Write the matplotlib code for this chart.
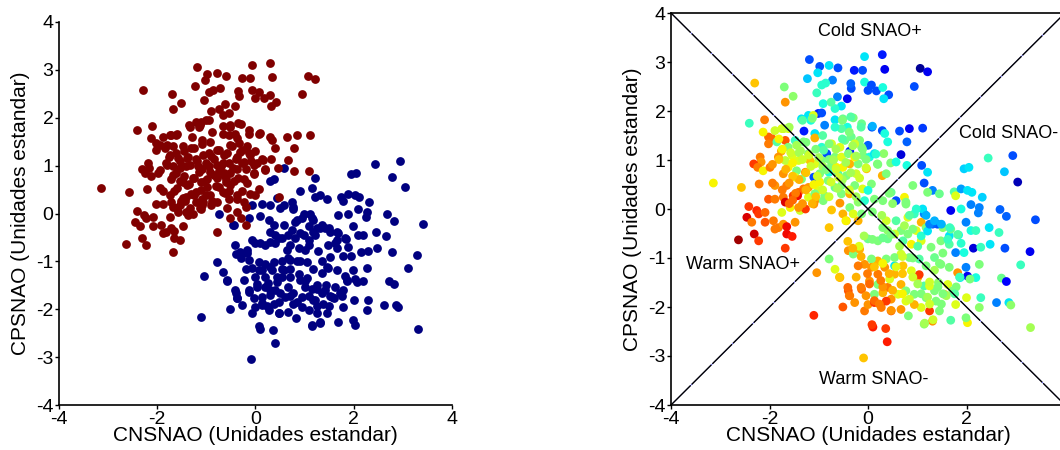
import numpy as np
import matplotlib
matplotlib.use("Agg")
import matplotlib.pyplot as plt

# points: (CNSNAO, CPSNAO, colour value 0..1 for the jet plot)
red_pts = [
    (0.29, 3.15, 0.15), (-0.07, 3.11, 0.35), (-1.19, 3.05, 0.2), (-0.98, 2.91, 0.2), (-0.79, 2.93, 0.35),
    (-0.61, 2.88, 0.2), (-0.28, 2.83, 0.15), (-0.11, 2.83, 0.2), (0.34, 2.85, 0.1), (1.06, 2.87, 0.02),
    (1.21, 2.8, 0.1), (-1.02, 2.78, 0.35), (-1.23, 2.66, 0.32), (-0.72, 2.63, 0.25), (-0.94, 2.53, 0.4),
    (-0.86, 2.57, 0.4), (-1.04, 2.37, 0.42), (-0.34, 2.46, 0.2), (-0.35, 2.56, 0.22), (-0.07, 2.59, 0.38),
    (0.0, 2.42, 0.2), (0.07, 2.53, 0.2), (0.17, 2.41, 0.2), (0.3, 2.48, 0.38), (0.42, 2.33, 0.2),
    (0.32, 2.25, 0.35), (0.94, 2.5, 0.2), (-0.42, 2.25, 0.1), (-0.62, 2.29, 0.25), (-0.54, 2.1, 0.35),
    (-0.67, 2.05, 0.4), (-0.91, 2.15, 0.38), (-0.75, 2.18, 0.45), (-1.01, 1.95, 0.15), (-0.94, 1.96, 0.2),
    (-1.21, 1.91, 0.35), (-1.35, 1.84, 0.35), (-1.7, 2.49, 0.5), (-1.52, 2.3, 0.52), (-1.68, 2.18, 0.75),
    (-2.3, 2.57, 0.7), (-2.41, 1.75, 0.42), (-2.1, 1.82, 0.78), (-1.3, 1.59, 0.15), (-1.16, 1.81, 0.38),
    (-1.11, 1.91, 0.62), (-0.88, 1.71, 0.25), (-1.08, 1.54, 0.35), (-0.67, 1.82, 0.35), (-0.51, 1.84, 0.48),
    (-0.3, 1.86, 0.5), (-0.13, 1.74, 0.48), (-0.42, 1.67, 0.38), (-0.54, 1.64, 0.45), (-0.67, 1.67, 0.4),
    (0.08, 1.67, 0.2), (0.29, 1.6, 0.2), (0.34, 1.54, 0.38), (0.64, 1.59, 0.2), (0.84, 1.64, 0.1),
    (1.11, 1.65, 0.18), (0.79, 1.37, 0.22), (0.4, 1.37, 0.38), (0.0, 1.3, 0.22), (-0.17, 1.4, 0.5),
    (-0.34, 1.47, 0.48), (-0.47, 1.4, 0.48), (-0.37, 1.18, 0.15), (-0.57, 1.26, 0.62), (-0.74, 1.33, 0.6),
    (-0.84, 1.13, 0.2), (-0.94, 1.26, 0.4), (-1.08, 1.45, 0.72), (-1.31, 1.37, 0.5), (-1.48, 1.4, 0.42),
    (-1.62, 1.64, 0.62), (-1.75, 1.64, 0.62), (-1.89, 1.6, 0.6), (-2.02, 1.47, 0.8), (-1.94, 1.43, 0.8),
    (-2.02, 1.33, 0.78), (-1.85, 1.37, 0.45), (-1.68, 1.4, 0.82), (-2.13, 1.57, 0.65), (-1.62, 1.26, 0.5),
    (-1.76, 1.18, 0.72), (-1.54, 1.09, 0.62), (-1.37, 1.19, 0.55), (-1.21, 1.13, 0.52), (-2.19, 1.06, 0.78),
    (-2.17, 0.96, 0.75), (-2.32, 0.92, 0.85), (-2.24, 0.85, 0.78), (-2.13, 0.78, 0.65), (-1.99, 0.85, 0.78),
    (-1.62, 0.85, 0.65), (-1.45, 0.78, 0.5), (-1.27, 0.75, 0.78), (-1.1, 0.65, 0.2), (-0.98, 0.72, 0.5),
    (-0.79, 0.75, 0.38), (-0.61, 0.72, 0.45), (-0.51, 0.85, 0.65), (-0.37, 0.92, 0.72), (-0.2, 0.92, 0.5),
    (-0.03, 0.82, 0.7), (0.19, 0.92, 0.5), (0.32, 1.13, 0.52), (0.46, 0.94, 0.5), (0.67, 1.11, 0.08),
    (0.79, 0.89, 0.38), (1.09, 0.89, 0.2), (0.07, 0.51, 0.5), (-0.11, 0.41, 0.62), (0.0, 0.38, 0.38),
    (-0.27, 0.48, 0.5), (-0.54, 0.48, 0.5), (-0.67, 0.44, 0.48), (-0.98, 0.55, 0.65), (-1.21, 0.44, 0.75),
    (-1.31, 0.41, 0.78), (-1.41, 0.34, 0.8), (-1.65, 0.48, 0.78), (-1.89, 0.48, 0.75), (-2.57, 0.44, 0.7),
    (-3.14, 0.53, 0.65), (-2.02, 0.2, 0.82), (-1.89, 0.2, 0.78), (-1.72, 0.24, 0.78), (-1.68, 0.14, 0.92),
    (-1.52, 0.27, 0.85), (-1.43, 0.27, 0.9), (-1.58, 0.03, 0.65), (-1.38, -0.03, 0.6), (-1.27, 0.0, 0.85),
    (-1.08, 0.17, 0.75), (-0.91, 0.17, 0.5), (-0.57, 0.12, 0.75), (-0.37, 0.03, 0.5), (-0.2, 0.14, 0.52),
    (0.47, 0.34, 0.48), (-0.2, -0.24, 0.72), (-0.3, -0.1, 0.62), (-0.51, -0.1, 0.72), (-0.79, -0.38, 0.7),
    (-2.42, 0.05, 0.85), (-2.26, -0.03, 0.87), (-2.22, -0.1, 0.85), (-2.09, -0.07, 0.8), (-2.46, -0.17, 0.92),
    (-2.36, -0.27, 0.78), (-2.09, -0.27, 0.82), (-1.92, -0.24, 0.78), (-1.82, -0.38, 0.78), (-1.72, -0.31, 0.75),
    (-1.65, -0.36, 0.9), (-1.48, -0.27, 0.75), (-2.63, -0.63, 0.97), (-2.31, -0.51, 0.93), (-2.22, -0.65, 0.85),
    (-1.65, -0.51, 0.9), (-1.54, -0.56, 0.88), (-1.68, -0.8, 0.85), (-1.89, -0.41, 0.78), (-1.41, 0.03, 0.75),
    (-1.75, -0.07, 0.62), (-2.21, 0.51, 0.78),
    (-1.41, 0.99, 0.62), (-1.68, 0.99, 0.58), (-1.82, 1.06, 0.75), (-1.72, 0.72, 0.75), (-1.48, 0.65, 0.62),
    (-1.35, 0.61, 0.5), (-1.01, 0.38, 0.62), (-0.88, 0.27, 0.5), (-1.21, 0.24, 0.62), (-1.1, 0.1, 0.75),
    (-0.54, 0.31, 0.5), (-0.37, 0.31, 0.72), (-0.67, 1.06, 0.5), (-0.54, 1.06, 0.62), (-0.4, 1.13, 0.5),
    (-0.27, 1.06, 0.65), (-0.1, 1.09, 0.5), (0.03, 1.06, 0.38), (0.13, 1.13, 0.35), (-0.13, 1.26, 0.5),
    (-0.27, 1.33, 0.6), (-0.74, 0.89, 0.5), (-0.64, 0.85, 0.65), (-0.44, 0.68, 0.5), (-0.24, 0.72, 0.6),
    (-0.81, 0.58, 0.5), (-1.08, 0.31, 0.5), (-0.94, 0.99, 0.5), (-1.08, 0.92, 0.62), (-1.18, 0.99, 0.7),
]

# dense core of the upper-left cluster
red_core = [
    (-1.81, 1.43, 0.65), (-1.71, 1.64, 0.6), (-1.6, 1.67, 0.55), (-1.33, 1.81, 0.45), (-1.13, 1.85, 0.5),
    (-0.52, 1.81, 0.5), (-0.35, 1.88, 0.45), (-0.14, 1.67, 0.45), (0.09, 1.69, 0.3), (-1.57, 1.15, 0.6),
    (-1.74, 1.22, 0.65), (-1.53, 0.94, 0.65), (-1.4, 1.15, 0.55), (-1.26, 1.36, 0.5), (-1.06, 1.22, 0.5),
    (-0.92, 1.5, 0.45), (-0.79, 1.33, 0.5), (-0.65, 1.22, 0.55), (-0.52, 1.43, 0.45), (-0.38, 1.57, 0.5),
    (-0.31, 1.29, 0.55), (-0.24, 1.08, 0.55), (-0.11, 1.22, 0.5), (-0.04, 1.01, 0.5), (0.16, 1.12, 0.4),
    (0.2, 0.91, 0.5), (-0.04, 0.84, 0.6), (-0.17, 0.63, 0.6), (-0.35, 0.74, 0.55), (-0.52, 0.6, 0.55),
    (-0.65, 0.81, 0.6), (-0.79, 1.01, 0.5), (-0.92, 0.87, 0.55), (-1.03, 0.67, 0.6), (-1.16, 0.87, 0.6),
    (-1.33, 1.01, 0.6), (-1.26, 0.74, 0.7), (-1.4, 0.6, 0.72), (-1.53, 0.67, 0.7), (-1.67, 0.81, 0.72),
    (-1.81, 1.01, 0.7), (-1.94, 0.91, 0.75), (-1.94, 0.53, 0.78), (-1.74, 0.39, 0.78), (-1.6, 0.53, 0.75),
    (-1.47, 0.32, 0.78), (-1.26, 0.39, 0.72), (-1.06, 0.25, 0.7), (-0.92, 0.39, 0.6), (-0.79, 0.25, 0.6),
    (-0.62, 0.42, 0.55), (-0.38, 0.39, 0.6), (-0.24, 0.25, 0.55), (-1.33, 0.11, 0.75), (-1.6, 0.11, 0.8),
    (-1.13, 0.11, 0.72), (-1.53, 0.18, 0.8), (-1.0, 1.05, 0.55), (-0.85, 0.8, 0.5), (-0.7, 1.0, 0.55),
    (-1.2, 1.1, 0.6), (-0.6, 0.65, 0.6), (-0.45, 0.95, 0.55), (-1.45, 1.3, 0.55), (-0.9, 1.2, 0.45),
    (-1.1, 0.5, 0.65), (-0.75, 0.55, 0.6),
]

blue_pts = [
    (0.57, 0.96, 0.38), (1.21, 0.75, 0.35), (0.29, 0.68, 0.72), (0.37, 0.72, 0.5), (0.13, 0.2, 0.5),
    (0.3, 0.17, 0.5), (0.57, 0.17, 0.2), (-0.07, 0.17, 0.4), (-0.74, -0.02, 0.7), (-0.13, -0.1, 0.5),
    (-0.44, -0.24, 0.7), (0.74, 0.24, 0.65), (0.77, 0.1, 0.5), (0.91, 0.48, 0.5), (1.14, 0.53, 0.2),
    (1.31, 0.38, 0.25), (1.21, 0.34, 0.5), (1.45, 0.31, 0.48), (1.75, 0.35, 0.45), (1.78, 0.27, 0.62),
    (1.89, 0.41, 0.28), (2.02, 0.38, 0.35), (2.11, 0.34, 0.35), (1.95, 0.82, 0.33), (2.05, 0.85, 0.35),
    (2.44, 1.04, 0.42), (2.94, 1.09, 0.2), (2.77, 0.76, 0.32), (3.04, 0.55, 0.05), (2.32, 0.24, 0.33),
    (2.09, 0.09, 0.25), (2.26, 0.03, 0.25), (1.89, 0.0, 0.38), (1.68, -0.03, 0.1), (2.24, -0.08, 0.25),
    (2.68, -0.01, 0.22), (2.81, -0.15, 0.22), (3.4, -0.22, 0.2), (2.46, -0.38, 0.35), (2.66, -0.48, 0.42),
    (1.99, -0.27, 0.25), (2.09, -0.44, 0.38), (2.19, -0.44, 0.42), (1.84, -0.53, 0.38), (1.65, -0.55, 0.35),
    (1.68, -0.41, 0.48), (1.52, -0.38, 0.52), (1.41, -0.31, 0.2), (1.31, -0.31, 0.22), (1.14, -0.1, 0.25),
    (1.11, 0.0, 0.35), (0.94, -0.1, 0.42), (0.81, -0.17, 0.62), (1.08, -0.27, 0.72), (1.18, -0.38, 0.5),
    (0.98, -0.44, 0.62), (0.81, -0.51, 0.5), (0.67, -0.44, 0.5), (0.54, -0.51, 0.6), (0.4, -0.44, 0.52),
    (0.2, -0.65, 0.5), (0.0, -0.61, 0.48), (0.4, -0.61, 0.48), (0.71, -0.65, 0.45), (0.88, -0.72, 0.65),
    (1.08, -0.65, 0.62), (1.28, -0.78, 0.5), (1.48, -0.65, 0.5), (1.65, -0.72, 0.45), (1.78, -0.89, 0.25),
    (1.95, -0.89, 0.38), (2.14, -0.8, 0.08), (2.29, -0.78, 0.42), (2.48, -0.72, 0.35), (2.78, -0.8, 0.2),
    (3.29, -0.87, 0.1), (3.1, -1.14, 0.42), (2.26, -1.13, 0.5), (1.99, -1.19, 0.25), (2.02, -1.37, 0.1),
    (1.87, -1.4, 0.35), (1.82, -1.3, 0.75), (1.65, -1.19, 0.5), (1.48, -1.13, 0.5), (1.35, -0.99, 0.48),
    (2.71, -1.41, 0.48), (2.81, -1.48, 0.12), (2.0, -1.81, 0.62), (2.29, -1.81, 0.42), (2.61, -1.91, 0.25),
    (2.86, -1.91, 0.35), (2.9, -1.96, 0.52), (3.3, -2.42, 0.55), (2.26, -2.01, 0.52), (2.02, -2.32, 0.65),
    (1.99, -2.22, 0.5), (1.68, -2.27, 0.45), (1.78, -1.95, 0.62), (1.55, -1.74, 0.72), (1.35, -1.67, 0.5),
    (1.38, -1.88, 0.5), (1.45, -2.08, 0.5), (1.31, -2.29, 0.75), (1.14, -2.35, 0.52), (1.25, -2.08, 0.85),
    (1.08, -2.01, 0.62), (1.18, -1.81, 0.5), (1.14, -1.57, 0.45), (1.01, -1.4, 0.72), (1.04, -1.34, 0.85),
    (0.88, -1.26, 0.62), (0.71, -1.16, 0.7), (0.54, -1.16, 0.35), (0.37, -1.02, 0.5), (0.2, -1.06, 0.72),
    (0.07, -1.02, 0.5), (-0.07, -1.13, 0.75), (-0.2, -1.16, 0.78), (-0.4, -0.85, 0.75), (-0.3, -0.92, 0.5),
    (-0.17, -0.82, 0.72), (-0.67, -1.23, 0.62), (-0.57, -1.4, 0.72), (-0.79, -1.02, 0.5), (-1.04, -1.3, 0.75),
    (-1.1, -2.17, 0.87), (-0.4, -1.67, 0.82), (-0.37, -1.77, 0.78), (-0.27, -1.91, 0.75), (-0.51, -2.0, 0.82),
    (-0.07, -2.08, 0.78), (0.0, -1.95, 0.75), (0.13, -1.91, 0.85), (0.27, -2.01, 0.78), (0.47, -2.08, 0.82),
    (0.67, -2.05, 0.75), (0.82, -2.18, 0.5), (0.61, -1.74, 0.62), (0.4, -1.6, 0.78), (0.2, -1.54, 0.5),
    (0.03, -1.47, 0.75), (-0.13, -1.64, 0.8), (0.1, -2.41, 0.88), (0.36, -2.44, 0.85), (0.39, -2.71, 0.88),
    (-0.09, -3.04, 0.7), (0.54, -1.33, 0.72), (0.44, -1.43, 0.62), (0.67, -1.54, 0.72), (0.77, -1.67, 0.5),
    (0.94, -1.74, 0.5), (0.77, -1.88, 0.62), (0.47, -1.84, 0.75), (0.37, -1.88, 0.85), (0.94, -1.95, 0.72),
    (0.3, -1.71, 0.72), (0.13, -1.74, 0.5), (0.2, -1.33, 0.78), (0.07, -1.19, 0.75), (0.34, -1.19, 0.75),
    (0.67, -0.92, 0.6), (0.54, -0.99, 0.5), (0.84, -0.99, 0.5), (1.04, -1.02, 0.45), (1.18, -1.16, 0.5),
    (1.25, -1.57, 0.62), (1.43, -1.5, 0.52), (1.62, -1.54, 0.62), (1.72, -1.67, 0.5), (2.19, -1.4, 0.38),
    (2.07, -1.43, 0.5),
]

# dense core of the lower-right cluster
blue_core = [
    (-0.18, -0.76, 0.62), (-0.31, -0.8, 0.72), (-0.41, -0.66, 0.7), (-0.08, -0.55, 0.55), (0.09, -0.62, 0.5),
    (0.3, -0.59, 0.48), (0.47, -0.52, 0.5), (0.64, -0.76, 0.55), (0.7, -0.97, 0.6), (0.91, -1.0, 0.5),
    (1.01, -0.76, 0.45), (1.08, -0.55, 0.4), (1.21, -0.45, 0.35), (1.25, -0.31, 0.25), (1.18, -0.13, 0.3),
    (0.98, 0.0, 0.4), (0.77, 0.14, 0.5), (0.84, -0.13, 0.45), (0.74, -0.34, 0.55), (0.91, -0.41, 0.5),
    (0.57, -0.24, 0.45), (0.37, -0.24, 0.6), (1.35, -0.24, 0.3), (1.52, -0.9, 0.5), (1.45, -1.11, 0.5),
    (1.35, -1.25, 0.55), (0.3, -1.59, 0.75), (0.5, -1.66, 0.72), (0.7, -1.73, 0.65), (0.84, -1.84, 0.6),
    (0.26, -1.46, 0.78), (0.03, -1.53, 0.8), (-0.14, -1.6, 0.78), (-0.04, -1.77, 0.75), (-0.24, -1.39, 0.72),
    (0.13, -1.18, 0.7), (-0.01, -1.32, 0.78), (0.3, -1.11, 0.65), (0.43, -1.32, 0.72), (0.57, -1.18, 0.62),
    (0.7, -1.32, 0.7), (0.91, -1.39, 0.6), (1.01, -1.53, 0.55), (1.08, -1.73, 0.5), (1.21, -1.8, 0.55),
    (1.25, -1.94, 0.6), (1.49, -1.94, 0.5), (1.59, -1.77, 0.55), (1.52, -1.73, 0.5), (1.42, -1.59, 0.5),
    (1.25, -1.49, 0.6), (1.79, -1.59, 0.5), (1.76, -1.73, 0.45), (1.86, -1.39, 0.42), (1.66, -0.38, 0.42),
    (1.49, -0.31, 0.3), (1.62, -0.62, 0.42), (1.89, -0.7, 0.4), (1.82, -0.52, 0.45), (0.5, 0.11, 0.52),
    (0.43, 0.32, 0.5), (0.28, -0.13, 0.55), (0.09, -0.06, 0.5), (0.3, -0.38, 0.5), (-0.45, -0.24, 0.65),
    (-0.14, -0.97, 0.72), (-0.38, -1.77, 0.78), (-0.41, -1.6, 0.8), (-0.58, -1.39, 0.7), (0.13, -1.87, 0.8),
    (0.23, -1.94, 0.78), (0.47, -2.07, 0.75), (1.15, -2.33, 0.55), (0.08, -2.36, 0.85), (1.32, -2.26, 0.6),
]

ticks_x = [-4, -2, 0, 2, 4]
ticks_y = [-4, -3, -2, -1, 0, 1, 2, 3, 4]
xlabel = "CNSNAO (Unidades estandar)"
ylabel = "CPSNAO (Unidades estandar)"
quadrants = [("Cold SNAO+", 0.03, 3.62, "center"), ("Cold SNAO-", 1.85, 1.54, "left"),
             ("Warm SNAO+", -3.7, -1.14, "left"), ("Warm SNAO-", 0.11, -3.48, "center")]

plt.rcParams['font.family'] = ['Liberation Sans', 'DejaVu Sans']
plt.rcParams['axes.unicode_minus'] = False

red = np.array(red_pts + red_core)
blue = np.array(blue_pts + blue_core)
allp = np.vstack([red, blue])

fig = plt.figure(figsize=(10.6, 4.5), dpi=100)
ax1 = fig.add_axes([59 / 1060, 45 / 450, 393 / 1060, 383 / 450])
ax2 = fig.add_axes([671 / 1060, 45 / 450, 394 / 1060, 392 / 450])

ax1.scatter(blue[:, 0], blue[:, 1], s=40, c='#000080', linewidths=0)
ax1.scatter(red[:, 0], red[:, 1], s=40, c='#800000', linewidths=0)
ax1.spines['top'].set_visible(False)
ax1.spines['right'].set_visible(False)

ax2.scatter(allp[:, 0], allp[:, 1], s=40, c=allp[:, 2], cmap='jet', vmin=0, vmax=1, linewidths=0)
diag = np.array([-4, 4])
for sgn in (1, -1):
    ax2.plot(diag, sgn * diag, color='#4040ff', lw=0.5)
    ax2.plot(diag, sgn * diag, color='black', lw=1.0, dashes=(20, 1))
for txt, tx, ty, ha in quadrants:
    ax2.text(tx, ty, txt, fontsize=13, ha=ha, va='center')

for ax in (ax1, ax2):
    ax.set_xlim(-4, 4)
    ax.set_ylim(-4, 4)
    ax.set_xticks(ticks_x)
    ax.set_yticks(ticks_y)
    ax.tick_params(labelsize=14, length=3, width=1, direction='out', pad=1)
    for sp in ax.spines.values():
        sp.set_linewidth(1.2)
    ax.set_xlabel(xlabel, fontsize=15, labelpad=-1)
    ax.set_ylabel(ylabel, fontsize=15, labelpad=4)

fig.savefig("out.png", dpi=100)
